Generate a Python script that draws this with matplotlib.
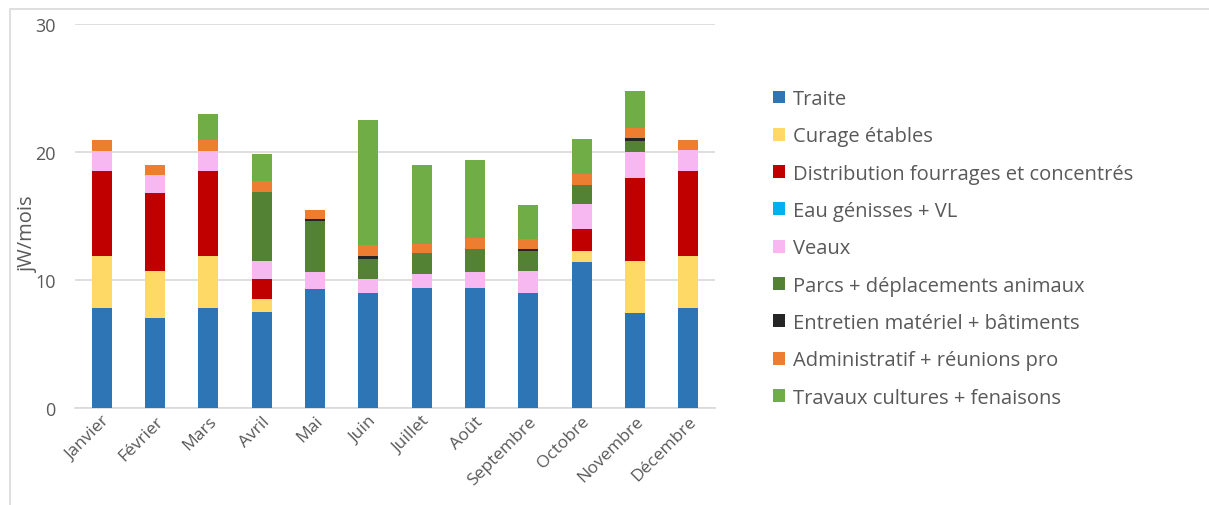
import matplotlib

matplotlib.use("Agg")
import matplotlib.pyplot as plt
import numpy as np
from matplotlib.patches import Rectangle

months = ["Janvier", "Février", "Mars", "Avril", "Mai", "Juin", "Juillet",
          "Août", "Septembre", "Octobre", "Novembre", "Décembre"]

traite = [7.8, 7.0, 7.8, 7.5, 9.3, 9.0, 9.4, 9.4, 9.0, 11.4, 7.4, 7.8]
curage = [4.05, 3.7, 4.05, 1.0, 0, 0, 0, 0, 0, 0.9, 4.05, 4.05]
distribution = [6.7, 6.1, 6.7, 1.6, 0, 0, 0, 0, 0, 1.7, 6.55, 6.7]
eau = [0, 0, 0, 0, 0, 0, 0, 0, 0, 0, 0, 0]
veaux = [1.55, 1.4, 1.5, 1.4, 1.35, 1.1, 1.05, 1.2, 1.7, 1.95, 2.0, 1.6]
parcs = [0, 0, 0, 5.4, 3.95, 1.55, 1.65, 1.8, 1.6, 1.45, 0.85, 0]
entretien = [0, 0, 0, 0, 0.2, 0.25, 0, 0.05, 0.1, 0, 0.25, 0]
admin = [0.8, 0.8, 0.85, 0.85, 0.7, 0.8, 0.75, 0.85, 0.8, 0.9, 0.75, 0.8]
travaux = [0, 0, 2.1, 2.1, 0, 9.8, 6.15, 6.1, 2.65, 2.7, 2.9, 0]

series = [
    ("Traite", traite, "#2E75B6"),
    ("Curage étables", curage, "#FFD966"),
    ("Distribution fourrages et concentrés", distribution, "#C00000"),
    ("Eau génisses + VL", eau, "#00B0F0"),
    ("Veaux", veaux, "#F7B7F0"),
    ("Parcs + déplacements animaux", parcs, "#548235"),
    ("Entretien matériel + bâtiments", entretien, "#262626"),
    ("Administratif + réunions pro", admin, "#ED7D31"),
    ("Travaux cultures + fenaisons", travaux, "#70AD47"),
]

plt.rcParams["font.family"] = ["Open Sans", "DejaVu Sans"]
text_color = "#595959"

W, H = 1209, 506
fig = plt.figure(figsize=(W / 100, H / 100), dpi=100)
ax = fig.add_axes([75 / W, 1 - 409 / H, 640 / W, 384 / H])

# light chart border, like the Excel chart frame
fig.patches.append(Rectangle((10 / W, -0.01), 1.1, (H - 10) / H + 0.01,
                             transform=fig.transFigure, fill=False,
                             edgecolor="#D9D9D9", linewidth=1.2))

x = np.arange(len(months))
bottom = np.zeros(len(months))
for label, values, color in series:
    values = np.array(values)
    ax.bar(x, values, width=0.38, bottom=bottom, color=color, label=label,
           zorder=3)
    bottom += values

ax.set_xlim(-0.5, len(months) - 0.5)
ax.set_ylim(0, 30)
ax.set_yticks([0, 10, 20, 30])
ax.grid(axis="y", color="#D9D9D9", linewidth=1.2, zorder=0)
for side in ["top", "right", "left"]:
    ax.spines[side].set_visible(False)
ax.spines["bottom"].set_color("#D9D9D9")
ax.spines["bottom"].set_linewidth(1.2)
ax.tick_params(axis="both", length=0, colors=text_color, labelsize=13)
ax.tick_params(axis="y", pad=14)
ax.set_xticks(x)
ax.set_xticklabels(months, rotation=45, ha="right", rotation_mode="anchor",
                   fontsize=12.5)
ax.set_ylabel("jW/mois", fontsize=14.5, color=text_color)
ax.yaxis.set_label_coords(-0.057, 0.455)

leg = fig.legend(loc="upper left", bbox_to_anchor=(773 / W, 1 - 90 / H),
                 frameon=False, fontsize=14.5, handlelength=0.6,
                 handleheight=0.6, handletextpad=0.4, labelspacing=0.86,
                 borderaxespad=0, borderpad=0)
for t in leg.get_texts():
    t.set_color(text_color)

fig.savefig("out.png", dpi=100)
